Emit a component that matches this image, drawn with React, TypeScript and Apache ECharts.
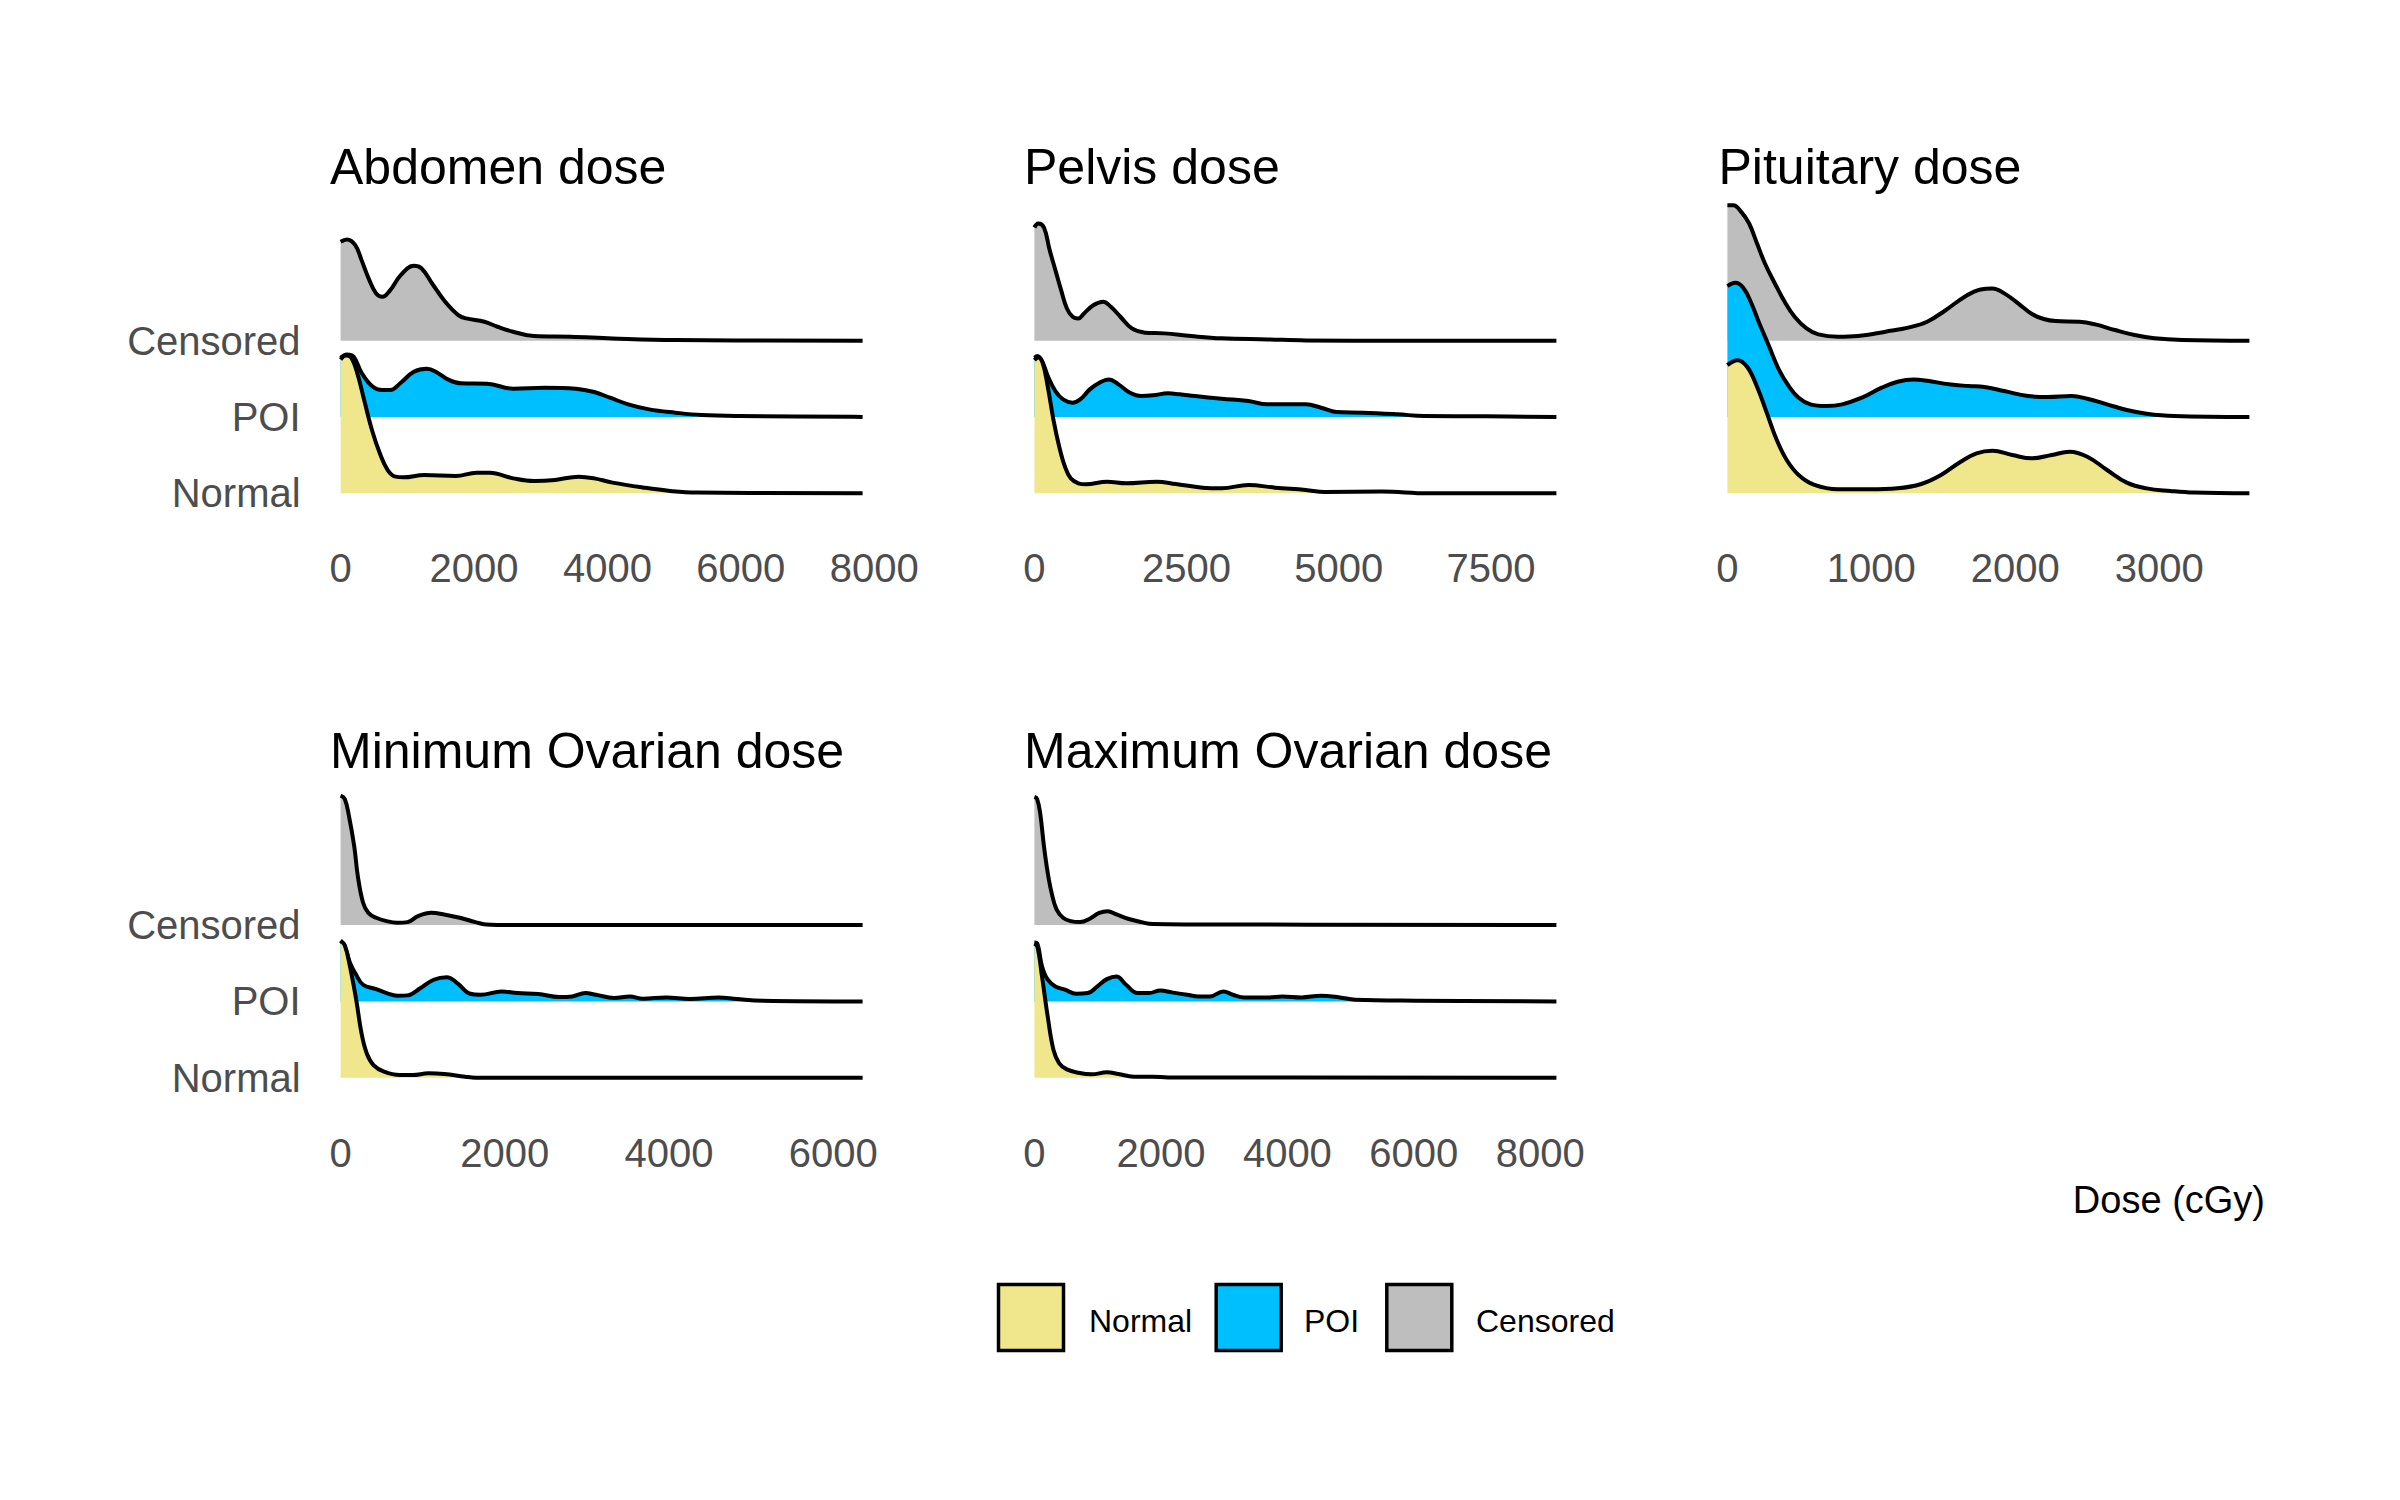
import React, { useEffect, useRef } from "react";
import * as echarts from "echarts";

// ---------- labels ----------
const ridgeNames = ["Normal", "POI", "Censored"];
const ridgeColors = ["#F0E68C", "#00BFFF", "#BEBEBE"];
const panelTitles = ["Abdomen dose", "Pelvis dose", "Pituitary dose", "Minimum Ovarian dose", "Maximum Ovarian dose"];
const xAxisTitle = "Dose (cGy)";

// ---------- tick labels ----------
const abdomenTicks = [0, 2000, 4000, 6000, 8000];
const pelvisTicks = [0, 2500, 5000, 7500];
const pituitaryTicks = [0, 1000, 2000, 3000];
const minOvTicks = [0, 2000, 4000, 6000];
const maxOvTicks = [0, 2000, 4000, 6000, 8000];

// ---------- densities (height in ridge-spacing units) ----------
// Abdomen
const abdCensX = [0, 94, 220, 314, 431, 533, 627, 745, 902, 1098, 1215, 1372, 1568, 1764, 1882, 2156, 2352, 2587, 2901, 3450, 4077, 5018, 7826];
const abdCensD = [1.296, 1.326, 1.252, 1.056, 0.794, 0.62, 0.576, 0.663, 0.86, 0.982, 0.947, 0.75, 0.51, 0.336, 0.292, 0.249, 0.183, 0.118, 0.061, 0.052, 0.03, 0.009, 0];
const abdPoiX = [0, 94, 196, 314, 470, 627, 745, 902, 1098, 1294, 1451, 1607, 1803, 2195, 2588, 3058, 3528, 3803, 4038, 4313, 4626, 5018, 5410, 5959, 7684, 7826];
const abdPoiD = [0.777, 0.82, 0.79, 0.58, 0.406, 0.353, 0.353, 0.449, 0.593, 0.633, 0.58, 0.493, 0.441, 0.436, 0.371, 0.384, 0.371, 0.327, 0.253, 0.166, 0.1, 0.057, 0.026, 0.013, 0.004, 0];
const abdNormX = [0, 78, 157, 251, 353, 470, 588, 706, 823, 941, 1255, 1725, 2039, 2235, 2588, 2901, 3215, 3568, 3803, 4077, 4548, 4940, 5332, 7826];
const abdNormD = [1.754, 1.806, 1.78, 1.571, 1.222, 0.829, 0.524, 0.305, 0.218, 0.209, 0.24, 0.227, 0.27, 0.27, 0.196, 0.161, 0.175, 0.218, 0.196, 0.14, 0.074, 0.031, 0.009, 0];

// Pelvis
const pelCensX = [0, 63, 157, 251, 345, 439, 534, 628, 722, 816, 973, 1130, 1256, 1413, 1601, 1821, 2135, 2574, 3076, 3830, 4457, 5964, 8575];
const pelCensD = [1.483, 1.536, 1.483, 1.187, 0.925, 0.663, 0.423, 0.314, 0.292, 0.358, 0.467, 0.51, 0.445, 0.314, 0.161, 0.105, 0.096, 0.061, 0.031, 0.017, 0.004, 0, 0];
const pelPoiX = [0, 50, 126, 220, 345, 471, 628, 753, 910, 1067, 1224, 1381, 1570, 1758, 1946, 2197, 2386, 2637, 3076, 3516, 3830, 4457, 4709, 4960, 5399, 5964, 6404, 7408, 8575];
const pelPoiD = [0.777, 0.798, 0.733, 0.537, 0.34, 0.231, 0.188, 0.231, 0.362, 0.449, 0.493, 0.428, 0.318, 0.275, 0.284, 0.31, 0.297, 0.275, 0.24, 0.209, 0.166, 0.166, 0.122, 0.065, 0.057, 0.035, 0.013, 0.009, 0];
const pelNormX = [0, 63, 138, 220, 314, 408, 502, 596, 722, 848, 1193, 1507, 2009, 2323, 2762, 3076, 3516, 3955, 4457, 4771, 5713, 6466, 8575];
const pelNormD = [1.745, 1.78, 1.702, 1.396, 0.96, 0.611, 0.349, 0.196, 0.131, 0.118, 0.153, 0.131, 0.153, 0.122, 0.074, 0.065, 0.109, 0.074, 0.044, 0.017, 0.022, 0, 0];

// Pituitary
const pitCensX = [0, 41, 96, 151, 206, 261, 330, 398, 467, 550, 632, 769, 907, 1099, 1264, 1388, 1511, 1649, 1759, 1841, 1924, 2020, 2116, 2198, 2281, 2446, 2556, 2693, 2830, 2968, 3160, 3627];
const pitCensD = [1.776, 1.776, 1.689, 1.536, 1.274, 1.012, 0.75, 0.51, 0.314, 0.161, 0.083, 0.052, 0.061, 0.118, 0.175, 0.249, 0.393, 0.576, 0.672, 0.685, 0.62, 0.489, 0.349, 0.284, 0.257, 0.249, 0.214, 0.14, 0.074, 0.031, 0.009, 0];
const pitPoiX = [0, 55, 110, 165, 220, 289, 357, 426, 495, 577, 687, 797, 934, 1072, 1182, 1292, 1401, 1539, 1676, 1786, 1924, 2088, 2226, 2391, 2501, 2638, 2775, 2913, 3105, 3627];
const pitPoiD = [1.715, 1.758, 1.693, 1.497, 1.235, 0.929, 0.624, 0.406, 0.253, 0.166, 0.144, 0.166, 0.253, 0.384, 0.462, 0.493, 0.471, 0.428, 0.406, 0.393, 0.34, 0.275, 0.262, 0.275, 0.24, 0.166, 0.092, 0.044, 0.013, 0];
const pitNormX = [0, 69, 137, 206, 275, 343, 412, 495, 605, 769, 989, 1182, 1347, 1484, 1621, 1731, 1841, 1979, 2116, 2253, 2377, 2501, 2638, 2775, 2913, 3078, 3243, 3627];
const pitNormD = [1.68, 1.745, 1.658, 1.396, 1.047, 0.698, 0.436, 0.24, 0.109, 0.052, 0.052, 0.065, 0.122, 0.24, 0.414, 0.524, 0.558, 0.502, 0.458, 0.502, 0.545, 0.48, 0.305, 0.14, 0.065, 0.031, 0.009, 0];

// Minimum Ovarian
const minCensX = [0, 51, 102, 166, 210, 274, 338, 433, 561, 688, 815, 943, 1102, 1261, 1452, 1643, 1771, 2153, 6359];
const minCensD = [1.697, 1.654, 1.427, 1.034, 0.641, 0.292, 0.161, 0.096, 0.052, 0.031, 0.039, 0.118, 0.161, 0.14, 0.096, 0.039, 0.009, 0, 0];
const minPoiX = [0, 51, 115, 178, 274, 433, 561, 688, 815, 975, 1134, 1293, 1421, 1580, 1707, 1962, 2153, 2408, 2663, 2822, 2981, 3109, 3332, 3523, 3682, 3969, 4255, 4606, 4828, 5147, 6359];
const minPoiD = [0.798, 0.72, 0.502, 0.371, 0.218, 0.161, 0.109, 0.074, 0.079, 0.175, 0.284, 0.318, 0.24, 0.1, 0.087, 0.131, 0.109, 0.096, 0.057, 0.065, 0.109, 0.087, 0.044, 0.065, 0.035, 0.052, 0.031, 0.052, 0.031, 0.009, 0];
const minNormX = [0, 51, 115, 191, 255, 319, 401, 529, 720, 879, 1070, 1261, 1516, 1643, 6359];
const minNormD = [1.793, 1.736, 1.453, 1.017, 0.58, 0.318, 0.166, 0.079, 0.035, 0.035, 0.057, 0.048, 0.013, 0, 0];

// Maximum Ovarian
const maxCensX = [0, 42, 91, 151, 211, 272, 350, 453, 573, 724, 875, 1026, 1159, 1298, 1479, 1690, 1871, 2475, 8254];
const maxCensD = [1.68, 1.654, 1.47, 1.034, 0.685, 0.423, 0.205, 0.096, 0.052, 0.039, 0.083, 0.161, 0.183, 0.14, 0.083, 0.039, 0.013, 0.009, 0];
const maxPoiX = [0, 42, 121, 211, 332, 483, 664, 845, 996, 1147, 1298, 1449, 1630, 1811, 1992, 2173, 2414, 2595, 2777, 2988, 3139, 3320, 3682, 3923, 4225, 4527, 4829, 5070, 6036, 8254];
const maxPoiD = [0.772, 0.764, 0.458, 0.284, 0.196, 0.153, 0.1, 0.109, 0.196, 0.292, 0.327, 0.218, 0.109, 0.109, 0.144, 0.118, 0.087, 0.065, 0.065, 0.131, 0.087, 0.052, 0.052, 0.065, 0.052, 0.074, 0.052, 0.022, 0.009, 0];
const maxNormX = [0, 48, 121, 211, 302, 392, 513, 694, 905, 1147, 1328, 1569, 1871, 2113, 8254];
const maxNormD = [1.758, 1.715, 1.322, 0.798, 0.362, 0.188, 0.109, 0.065, 0.044, 0.07, 0.048, 0.013, 0.013, 0.004, 0];

// ---------- layout ----------
const FONT = '"Liberation Sans", Arial, "DejaVu Sans", sans-serif';
const PLOT_W = 522; // px for the data range of each panel
const RIDGE_PX = 76.3; // px per ridge unit
const Y_MAX = 4;

type Panel = {
  title: string;
  ridges: [number[], number[]][]; // index 0 Normal, 1 POI, 2 Censored
  ticks: number[];
  left: number;
  bottom: number;
  titleX: number;
  showY: boolean;
};

const panels: Panel[] = [
  { title: panelTitles[0], ridges: [[abdNormX, abdNormD], [abdPoiX, abdPoiD], [abdCensX, abdCensD]], ticks: abdomenTicks, left: 340.6, bottom: 493.3, titleX: 330, showY: true },
  { title: panelTitles[1], ridges: [[pelNormX, pelNormD], [pelPoiX, pelPoiD], [pelCensX, pelCensD]], ticks: pelvisTicks, left: 1034.4, bottom: 493.3, titleX: 1024, showY: false },
  { title: panelTitles[2], ridges: [[pitNormX, pitNormD], [pitPoiX, pitPoiD], [pitCensX, pitCensD]], ticks: pituitaryTicks, left: 1727.4, bottom: 493.3, titleX: 1718.5, showY: false },
  { title: panelTitles[3], ridges: [[minNormX, minNormD], [minPoiX, minPoiD], [minCensX, minCensD]], ticks: minOvTicks, left: 340.6, bottom: 1077.7, titleX: 330, showY: true },
  { title: panelTitles[4], ridges: [[maxNormX, maxNormD], [maxPoiX, maxPoiD], [maxCensX, maxCensD]], ticks: maxOvTicks, left: 1034.4, bottom: 1077.7, titleX: 1024, showY: false },
];

function buildOption() {
  const grid: any[] = [];
  const xAxis: any[] = [];
  const yAxis: any[] = [];
  const series: any[] = [];
  const graphic: any[] = [];

  panels.forEach((p, i) => {
    const dataEnd = p.ridges[2][0][p.ridges[2][0].length - 1];
    const lastTick = p.ticks[p.ticks.length - 1];
    const axisMax = Math.max(dataEnd, lastTick);
    const width = (PLOT_W * axisMax) / dataEnd;
    const height = RIDGE_PX * Y_MAX;
    grid.push({ left: p.left, top: p.bottom - height, width, height, containLabel: false, outerBoundsMode: "none" });
    const ticks = p.ticks;
    xAxis.push({
      type: "value",
      gridIndex: i,
      min: 0,
      max: axisMax,
      interval: ticks[1] - ticks[0],
      axisLine: { show: false },
      axisTick: { show: false },
      splitLine: { show: false },
      axisLabel: {
        show: true,
        fontSize: 40,
        fontFamily: FONT,
        color: "#4D4D4D",
        margin: 55,
        showMinLabel: true,
        showMaxLabel: true,
        hideOverlap: false,
        formatter: (v: number) => (ticks.includes(v) ? String(v) : ""),
      },
    });
    yAxis.push({
      type: "value",
      gridIndex: i,
      min: 0,
      max: Y_MAX,
      interval: 1,
      axisLine: { show: false },
      axisTick: { show: false },
      splitLine: { show: false },
      axisLabel: {
        show: p.showY,
        fontSize: 40,
        fontFamily: FONT,
        color: "#4D4D4D",
        margin: 40,
        padding: [6, 0, 0, 0],
        formatter: (v: number) => ridgeNames[v] ?? "",
      },
    });
    // draw back to front: Censored, POI, Normal
    for (let r = 2; r >= 0; r--) {
      const [xs, ds] = p.ridges[r];
      series.push({
        type: "line",
        name: ridgeNames[r],
        xAxisIndex: i,
        yAxisIndex: i,
        data: xs.map((x, k) => [x, r + ds[k]]),
        smooth: 0.4,
        symbol: "none",
        showSymbol: false,
        silent: true,
        clip: false,
        z: 5 + (2 - r),
        lineStyle: { color: "#000000", width: 4, join: "round", cap: "butt" },
        areaStyle: { color: ridgeColors[r], opacity: 1, origin: r },
      });
    }
    graphic.push({
      type: "text",
      x: p.titleX,
      y: p.bottom < 600 ? 167 : 751,
      silent: true,
      style: {
        text: p.title,
        fill: "#000000",
        fontSize: 50,
        fontFamily: FONT,
        align: "left",
        verticalAlign: "middle",
        textAlign: "left",
        textVerticalAlign: "middle",
      },
    });
  });

  // x-axis title
  graphic.push({
    type: "text",
    x: 2265,
    y: 1200,
    silent: true,
    style: {
      text: xAxisTitle,
      fill: "#000000",
      fontSize: 38,
      fontFamily: FONT,
      align: "right",
      verticalAlign: "middle",
      textAlign: "right",
      textVerticalAlign: "middle",
    },
  });

  // legend
  const keyX = [998.5, 1216.2, 1386.8];
  const labelX = [1089, 1304, 1476];
  ridgeNames.forEach((name, r) => {
    graphic.push({
      type: "rect",
      silent: true,
      shape: { x: keyX[r], y: 1284.5, width: 65, height: 66 },
      style: { fill: ridgeColors[r], stroke: "#000000", lineWidth: 3.5 },
    });
    graphic.push({
      type: "text",
      x: labelX[r],
      y: 1321,
      silent: true,
      style: {
        text: name,
        fill: "#000000",
        fontSize: 32,
        fontFamily: FONT,
        align: "left",
        verticalAlign: "middle",
        textAlign: "left",
        textVerticalAlign: "middle",
      },
    });
  });

  return {
    animation: false,
    backgroundColor: "#ffffff",
    textStyle: { fontFamily: FONT },
    grid,
    xAxis,
    yAxis,
    series,
    graphic,
  };
}

export default function App() {
  const ref = useRef<HTMLDivElement>(null);
  useEffect(() => {
    if (!ref.current) return;
    const chart = echarts.init(ref.current, null, { renderer: "svg" });
    chart.setOption(buildOption() as any);
    return () => chart.dispose();
  }, []);
  return (
    <div
      ref={ref}
      style={{ position: "fixed", left: 0, top: 0, width: 2400, height: 1500, background: "#ffffff" }}
    />
  );
}
